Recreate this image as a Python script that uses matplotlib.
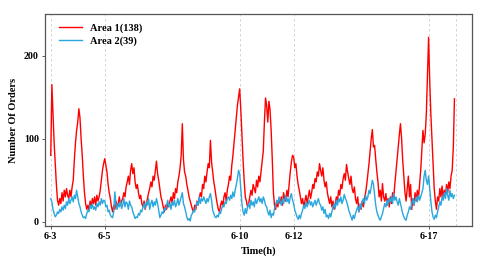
import numpy as np
import matplotlib.pyplot as plt

# hourly order counts, 6-3 00:00 to 6-17 23:00 (one row per day)
area1 = [
    80, 165, 130, 95, 70, 45, 26, 20, 28, 22, 35, 25, 38, 30, 40, 32, 28, 38, 30, 42, 50, 75, 95, 110,
    120, 136, 125, 100, 80, 55, 35, 22, 15, 20, 14, 25, 18, 28, 22, 30, 20, 32, 25, 30, 38, 50, 62, 70,
    76, 68, 60, 45, 35, 28, 18, 12, 20, 15, 25, 18, 22, 30, 20, 25, 28, 35, 30, 42, 48, 55, 45, 62,
    70, 58, 65, 48, 40, 45, 35, 28, 32, 22, 18, 25, 15, 22, 28, 35, 40, 48, 42, 55, 50, 62, 73, 58,
    50, 40, 30, 25, 18, 12, 20, 15, 22, 18, 25, 30, 22, 35, 28, 40, 35, 48, 55, 65, 80, 118, 75, 60,
    55, 45, 38, 30, 25, 20, 15, 12, 20, 15, 25, 20, 28, 35, 30, 45, 40, 55, 48, 60, 70, 65, 98, 72,
    60, 48, 40, 30, 22, 15, 12, 20, 25, 18, 30, 35, 25, 38, 45, 55, 50, 68, 80, 95, 110, 125, 140, 150,
    160, 135, 105, 75, 50, 30, 25, 18, 22, 30, 38, 32, 45, 40, 35, 50, 42, 55, 48, 60, 72, 85, 120, 149,
    140, 120, 145, 135, 110, 75, 35, 20, 15, 25, 18, 28, 22, 30, 20, 35, 28, 25, 38, 30, 45, 60, 72, 80,
    78, 65, 70, 55, 45, 38, 30, 22, 28, 18, 25, 32, 22, 30, 38, 28, 35, 45, 40, 52, 48, 60, 55, 70,
    62, 55, 65, 50, 42, 48, 35, 28, 22, 30, 18, 25, 15, 22, 30, 25, 38, 32, 45, 40, 52, 58, 50, 69,
    60, 52, 45, 55, 40, 35, 42, 28, 22, 30, 12, 20, 15, 25, 18, 28, 35, 45, 57, 70, 85, 100, 111, 90,
    92, 75, 60, 48, 30, 38, 25, 46, 30, 25, 34, 20, 28, 18, 30, 22, 35, 28, 46, 60, 75, 90, 105, 118,
    100, 74, 55, 35, 25, 40, 55, 30, 45, 15, 28, 20, 35, 25, 38, 28, 45, 62, 85, 110, 95, 105, 130, 175,
    222, 170, 130, 100, 70, 40, 25, 15, 30, 25, 40, 30, 43, 28, 38, 32, 45, 35, 48, 40, 55, 62, 90, 148,
]
area2 = [
    28, 24, 15, 10, 6, 8, 12, 10, 15, 12, 18, 14, 20, 16, 24, 20, 28, 22, 26, 30, 24, 32, 28, 38,
    30, 22, 18, 12, 8, 5, 6, 4, 10, 14, 12, 20, 16, 22, 15, 18, 14, 22, 18, 24, 20, 28, 22, 26,
    25, 18, 20, 12, 14, 8, 6, 5, 12, 36, 20, 15, 22, 18, 25, 16, 20, 28, 18, 24, 22, 15, 25, 20,
    18, 12, 8, 4, 6, 5, 10, 8, 14, 12, 18, 22, 16, 24, 20, 28, 15, 22, 26, 18, 24, 20, 28, 22,
    14, 5, 8, 12, 10, 16, 14, 20, 26, 18, 22, 15, 24, 20, 26, 18, 22, 28, 20, 25, 30, 35, 22, 18,
    12, 6, 2, 4, 1, 8, 10, 14, 12, 18, 24, 20, 30, 22, 28, 25, 30, 26, 22, 28, 24, 30, 34, 26,
    14, 10, 6, 5, 8, 6, 12, 10, 16, 20, 18, 24, 22, 28, 30, 26, 32, 28, 36, 30, 38, 45, 52, 62,
    58, 40, 22, 12, 8, 16, 10, 18, 22, 16, 26, 20, 24, 18, 28, 22, 26, 30, 24, 28, 22, 30, 26, 20,
    18, 12, 8, 14, 5, 10, 8, 16, 20, 26, 22, 30, 24, 20, 28, 22, 26, 32, 24, 28, 22, 30, 34, 26,
    22, 14, 10, 6, 3, 8, 4, 10, 14, 20, 16, 24, 18, 22, 26, 20, 24, 18, 22, 26, 20, 24, 28, 22,
    20, 14, 18, 10, 15, 6, 8, 4, 10, 6, 12, 18, 22, 16, 26, 20, 28, 24, 30, 22, 26, 33, 28, 25,
    20, 14, 10, 6, 2, 8, 4, 10, 14, 18, 12, 22, 16, 24, 28, 22, 32, 26, 30, 38, 34, 42, 50, 45,
    32, 20, 12, 8, 4, 2, 6, 10, 16, 22, 18, 26, 20, 28, 24, 30, 22, 34, 26, 30, 24, 20, 28, 22,
    16, 10, 6, 3, 2, 8, 12, 18, 15, 22, 28, 20, 26, 30, 24, 32, 26, 30, 35, 40, 55, 62, 50, 45,
    55, 40, 25, 12, 6, 3, 8, 5, 12, 18, 24, 20, 30, 26, 35, 28, 40, 32, 26, 38, 30, 34, 28, 32,
]
tick_hours = [0, 48, 168, 216, 336]
tick_labels = ["6-3", "6-5", "6-10", "6-12", "6-17"]
grid_hours = tick_hours + [360]

plt.rcParams['font.family'] = ["Liberation Serif", "DejaVu Serif"]
plt.rcParams['font.weight'] = "bold"
fd = {"fontsize": 7.5, "fontweight": "bold"}

hours = np.arange(len(area1))
fig = plt.figure(figsize=(4.82, 2.64), dpi=100)
ax = fig.add_axes([0.0934, 0.144, 0.8856, 0.803])

for h in grid_hours:
    ax.axvline(h, color="#cccccc", lw=0.6, ls=(0, (3, 3)), zorder=0)

ax.plot(hours, area1, color="#ff0000", lw=1.0, label="Area 1(138)")
ax.plot(hours, area2, color="#2aa7de", lw=1.0, label="Area 2(39)")

ax.set_xlim(-5.1, 374.5)
ax.set_ylim(-5, 250)
ax.set_xticks(tick_hours)
ax.set_xticklabels(tick_labels)
ax.set_yticks([0, 100, 200])
ax.tick_params(labelsize=7.2, length=2.5, width=0.6, color="#444444", pad=2)
for lab in ax.get_xticklabels() + ax.get_yticklabels():
    lab.set_fontweight("bold")
for s in ax.spines.values():
    s.set_color("#555555")
    s.set_linewidth(0.9)

ax.set_xlabel("Time(h)", fontdict=fd, labelpad=4)
ax.set_ylabel("Number Of Orders", fontdict=fd, labelpad=4)
leg = ax.legend(loc="upper left", frameon=False, fontsize=7.5, handlelength=2.2,
                borderaxespad=0.5, labelspacing=0.35, bbox_to_anchor=(0.01, 1.0))

fig.savefig("out.png", dpi=100)
